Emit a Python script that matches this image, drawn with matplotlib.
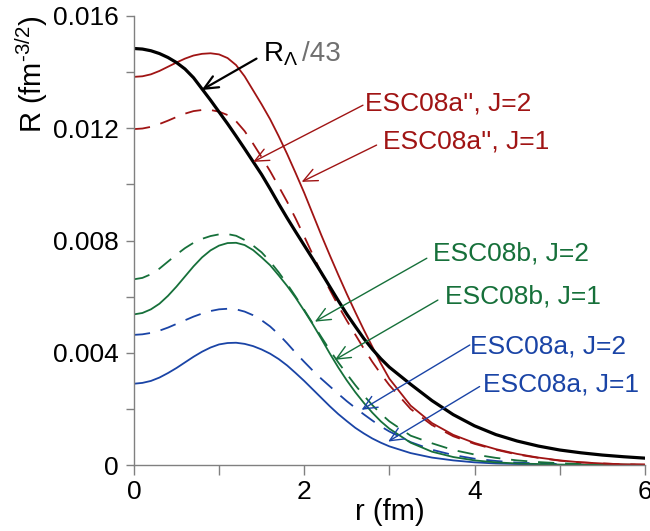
import matplotlib
matplotlib.use('Agg')
import matplotlib.pyplot as plt

plt.rcParams['font.family'] = ['Liberation Sans', 'DejaVu Sans']
plt.rcParams['mathtext.fontset'] = 'custom'
plt.rcParams['mathtext.rm'] = 'Liberation Sans'
plt.rcParams['mathtext.it'] = 'Liberation Sans'

# ============ data ============
r = [0.0, 0.1, 0.2, 0.3, 0.4, 0.5, 0.6, 0.7, 0.8, 0.9, 1.0, 1.1, 1.2, 1.3, 1.4, 1.5,
     1.6, 1.7, 1.8, 1.9, 2.0, 2.1, 2.2, 2.3, 2.4, 2.5, 2.6, 2.7, 2.8, 2.9, 3.0,
     3.25, 3.5, 3.75, 4.0, 4.25, 4.5, 4.75, 5.0, 5.25, 5.5, 5.75, 6.0]

# R_Lambda / 43
r_lambda = [0.01484, 0.01482, 0.01476, 0.01466, 0.01452, 0.01434, 0.01411, 0.01380,
            0.01340, 0.01300, 0.01258, 0.01216, 0.01172, 0.01127, 0.01081, 0.01035,
            0.00984, 0.00931, 0.00880, 0.00831, 0.00783, 0.00735, 0.00686, 0.00636,
            0.00586, 0.00538, 0.00494, 0.00451, 0.00413, 0.00379, 0.00349,
            0.00288, 0.00230, 0.00180, 0.00140, 0.00109, 0.00086, 0.00068, 0.00054,
            0.00044, 0.00036, 0.00030, 0.00025]

# ESC08a''
esc08a2_solid = [0.01383, 0.01385, 0.01392, 0.01404, 0.01419, 0.01434, 0.01448, 0.01459,
                 0.01465, 0.01467, 0.01463, 0.01450, 0.01425, 0.01385, 0.01335, 0.01285,
                 0.01232, 0.01172, 0.01108, 0.01040, 0.00970, 0.00895, 0.00820, 0.00748,
                 0.00678, 0.00610, 0.00545, 0.00482, 0.00422, 0.00362, 0.00308,
                 0.00212, 0.00150, 0.00108, 0.00079, 0.00057, 0.00040, 0.00027, 0.00017,
                 0.00010, 0.00006, 0.00003, 0.00002]
esc08a2_dash = [0.01197, 0.01199, 0.01205, 0.01215, 0.01227, 0.01240, 0.01252, 0.01261,
                0.01265, 0.01265, 0.01259, 0.01247, 0.01225, 0.01190, 0.01145, 0.01097,
                0.01047, 0.00993, 0.00938, 0.00878, 0.00815, 0.00750, 0.00685, 0.00625,
                0.00568, 0.00515, 0.00465, 0.00415, 0.00368, 0.00325, 0.00285,
                0.00200, 0.00143, 0.00103, 0.00076, 0.00055, 0.00038, 0.00026, 0.00016,
                0.00010, 0.00006, 0.00003, 0.00002]

# ESC08b
esc08b_solid = [0.00537, 0.00542, 0.00555, 0.00575, 0.00603, 0.00636, 0.00672, 0.00708,
                0.00740, 0.00765, 0.00782, 0.00791, 0.00792, 0.00784, 0.00766, 0.00740,
                0.00712, 0.00676, 0.00638, 0.00596, 0.00550, 0.00502, 0.00451, 0.00398,
                0.00348, 0.00302, 0.00260, 0.00222, 0.00187, 0.00156, 0.00130,
                0.00080, 0.00048, 0.00029, 0.00017, 0.00010, 0.00006, 0.00004, 0.00002,
                0.00001, 0.00001, 0.00000, 0.00000]
esc08b_dash = [0.00662, 0.00667, 0.00680, 0.00700, 0.00725, 0.00750, 0.00773, 0.00792,
               0.00806, 0.00816, 0.00822, 0.00823, 0.00817, 0.00802, 0.00782, 0.00758,
               0.00725, 0.00687, 0.00645, 0.00600, 0.00553, 0.00505, 0.00457, 0.00410,
               0.00366, 0.00325, 0.00285, 0.00248, 0.00214, 0.00183, 0.00156,
               0.00105, 0.00078, 0.00054, 0.00038, 0.00026, 0.00017, 0.00011, 0.00007,
               0.00004, 0.00003, 0.00002, 0.00001]

# ESC08a
esc08a_solid = [0.00290, 0.00293, 0.00300, 0.00312, 0.00328, 0.00346, 0.00366, 0.00386,
                0.00404, 0.00419, 0.00430, 0.00435, 0.00436, 0.00432, 0.00424, 0.00412,
                0.00397, 0.00378, 0.00355, 0.00328, 0.00300, 0.00270, 0.00240, 0.00210,
                0.00182, 0.00157, 0.00133, 0.00113, 0.00095, 0.00080, 0.00067,
                0.00043, 0.00027, 0.00017, 0.00010, 0.00006, 0.00004, 0.00002, 0.00001,
                0.00001, 0.00000, 0.00000, 0.00000]
esc08a_dash = [0.00464, 0.00466, 0.00471, 0.00479, 0.00490, 0.00503, 0.00516, 0.00529,
               0.00540, 0.00549, 0.00555, 0.00557, 0.00555, 0.00547, 0.00534, 0.00516,
               0.00494, 0.00466, 0.00434, 0.00400, 0.00368, 0.00337, 0.00308, 0.00281,
               0.00254, 0.00228, 0.00204, 0.00181, 0.00159, 0.00138, 0.00120,
               0.00082, 0.00055, 0.00036, 0.00023, 0.00015, 0.00009, 0.00006, 0.00004,
               0.00002, 0.00001, 0.00001, 0.00000]

RED = '#a01414'
GREEN = '#16703a'
BLUE = '#1a44a6'
GRAY = '#808080'

# 标签: (文本, 颜色, 文本位置, 箭头起点, 箭头终点)
labels = [
    ("ESC08a'', J=2", RED,   (2.71, 0.01289), (2.69, 0.01282), (1.40, 0.01080)),
    ("ESC08a'', J=1", RED,   (2.92, 0.01154), (2.85, 0.01140), (1.97, 0.01009)),
    ("ESC08b, J=2",   GREEN, (3.51, 0.00755), (3.44, 0.00737), (2.125, 0.00511)),
    ("ESC08b, J=1",   GREEN, (3.65, 0.00599), (3.57, 0.00588), (2.36, 0.00375)),
    ("ESC08a, J=2",   BLUE,  (3.945, 0.00421), (3.945, 0.00428), (2.674, 0.00197)),
    ("ESC08a, J=1",   BLUE,  (4.10, 0.00286), (4.06, 0.00280), (2.986, 0.00084)),
]

fig = plt.figure(figsize=(6.5, 5.31), dpi=100)
ax = fig.add_axes([0.206, 0.124, 0.786, 0.846])

dash = (0, (9, 6))
ax.plot(r, esc08a_solid, color=BLUE, lw=1.3)
ax.plot(r, esc08a_dash, color=BLUE, lw=1.3, ls=dash)
ax.plot(r, esc08b_dash, color=GREEN, lw=1.3, ls=dash)
ax.plot(r, esc08b_solid, color=GREEN, lw=1.3)
ax.plot(r, esc08a2_dash, color=RED, lw=1.3, ls=dash)
ax.plot(r, esc08a2_solid, color=RED, lw=1.3)
ax.plot(r, r_lambda, color='black', lw=2.3)

arrow_kw = dict(arrowstyle='->,head_length=1.0,head_width=0.45', shrinkA=0, shrinkB=0,
                mutation_scale=10)
for text, col, tpos, start, tip in labels:
    ax.text(tpos[0], tpos[1], text, color=col, fontsize=19, va='center', ha='left')
    ax.annotate('', xy=tip, xytext=start,
                arrowprops=dict(color=col, lw=1.0, **arrow_kw))

# R_Lambda/43
ax.text(1.515, 0.01464, r'R$_\Lambda$', color='black', fontsize=20, va='center', ha='left')
ax.text(1.97, 0.01464, '/43', color='#707070', fontsize=20, va='center', ha='left')
ax.annotate('', xy=(0.795, 0.01336), xytext=(1.44, 0.01448),
            arrowprops=dict(color='black', lw=1.6, **arrow_kw))

ax.set_xlim(0, 6)
ax.set_ylim(0, 0.016)
ax.set_xticks([0, 2, 4, 6])
ax.set_xticks([1, 3, 5], minor=True)
ax.set_yticks([0, 0.004, 0.008, 0.012, 0.016])
ax.set_yticklabels(['0', '0.004', '0.008', '0.012', '0.016'])
ax.set_yticks([0.002, 0.006, 0.010, 0.014], minor=True)

for side in ['top', 'right']:
    ax.spines[side].set_visible(False)
for side in ['left', 'bottom']:
    ax.spines[side].set_color(GRAY)
    ax.spines[side].set_linewidth(1.0)

ax.tick_params(axis='x', which='both', direction='out', length=7.5, width=1.0,
               color=GRAY, labelsize=19, pad=3)
ax.tick_params(axis='y', which='both', direction='out', length=6, width=1.0,
               color=GRAY, labelsize=19, pad=5)

ax.set_xlabel('r (fm)', fontsize=21, labelpad=-4)
ax.set_ylabel(r'R (fm$^{\text{-3/2}}$)', fontsize=21, loc='top', labelpad=2)

fig.savefig('out.png', dpi=100)
